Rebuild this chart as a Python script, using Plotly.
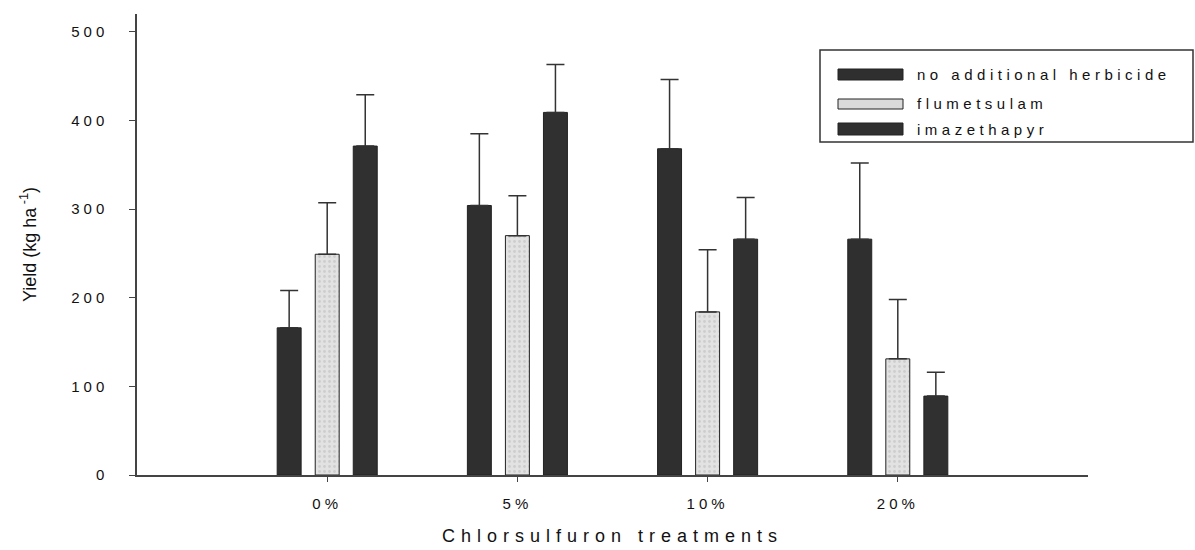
import plotly.graph_objects as go

categories = ["0%", "5%", "10%", "20%"]
series_names = ["no additional herbicide", "flumetsulam", "imazethapyr"]
no_additional = [166, 304, 368, 266]
no_additional_err = [42, 81, 78, 86]
flumetsulam = [249, 270, 184, 131]
flumetsulam_err = [58, 45, 70, 67]
imazethapyr = [371, 409, 266, 89]
imazethapyr_err = [58, 54, 47, 27]
y_ticks = [0, 100, 200, 300, 400, 500]

def sp(t, ls="letter-spacing:4px"):
    return f'<span style="{ls}">{t}</span>'

values = [no_additional, flumetsulam, imazethapyr]
errors = [no_additional_err, flumetsulam_err, imazethapyr_err]
fills = ["#2f2f2f", "#dadada", "#303030"]

fig = go.Figure()
for name, v, e, c in zip(series_names, values, errors, fills):
    marker = dict(color=c, line=dict(color="#222", width=1))
    if c == "#dadada":
        marker["pattern"] = dict(shape=".", fgcolor="#b8b8b8", bgcolor="#e2e2e2", size=5, solidity=0.25)
    fig.add_trace(go.Bar(
        x=categories, y=v, name=name, marker=marker, showlegend=False,
        error_y=dict(type="data", array=e, arrayminus=[0] * len(e), symmetric=False,
                     width=9, thickness=1.5, color="#333"),
    ))

fig.update_layout(
    width=1195, height=550,
    margin=dict(l=137, r=107, t=14, b=75),
    paper_bgcolor="white", plot_bgcolor="white",
    barmode="group", bargap=0.4, bargroupgap=0.37,
    font=dict(family="Arial, Liberation Sans, sans-serif", color="#111", size=15),
    xaxis=dict(
        type="category", range=[-1, 4], showgrid=False, zeroline=False, automargin=False,
        showline=True, linecolor="#444", linewidth=1.5,
        ticks="outside", ticklen=5, tickcolor="#444",
        tickvals=categories, ticktext=[sp(c) for c in categories],
        ticklabelstandoff=9, tickfont=dict(size=15),
        title=dict(text=sp("Chlorsulfuron treatments", "letter-spacing:6px"),
                   font=dict(size=18), standoff=19),
    ),
    yaxis=dict(
        range=[0, 520], showgrid=False, zeroline=False, automargin=False,
        showline=True, linecolor="#444", linewidth=1.5,
        ticks="outside", ticklen=6, tickcolor="#444",
        tickvals=y_ticks, ticktext=[sp(str(t)) for t in y_ticks],
        ticklabelstandoff=18, tickfont=dict(size=15),
        title=dict(text="Yield (kg ha<sup> -1</sup>)", font=dict(size=18), standoff=30),
    ),
)

# legend drawn manually (long swatches, boxed)
def px_x(px):
    return (px - 137) / 951
def px_y(py):
    return (475 - py) / 461

fig.add_shape(type="rect", xref="paper", yref="paper",
              x0=px_x(820), x1=px_x(1193), y0=px_y(142), y1=px_y(50),
              line=dict(color="#333", width=1.5), fillcolor="white", layer="above")
rows = [(69, 80), (99, 109), (123, 135)]
for (top, bot), name, c in zip(rows, series_names, fills):
    fig.add_shape(type="rect", xref="paper", yref="paper",
                  x0=px_x(838), x1=px_x(903), y0=px_y(bot), y1=px_y(top),
                  line=dict(color="#222", width=1), fillcolor=c, layer="above")
    fig.add_annotation(xref="paper", yref="paper", x=px_x(915), y=px_y((top + bot) / 2),
                       text=sp(name, "letter-spacing:4.5px"), showarrow=False,
                       xanchor="left", yanchor="middle",
                       font=dict(size=15, color="#111"))

fig.write_html("out.html")
